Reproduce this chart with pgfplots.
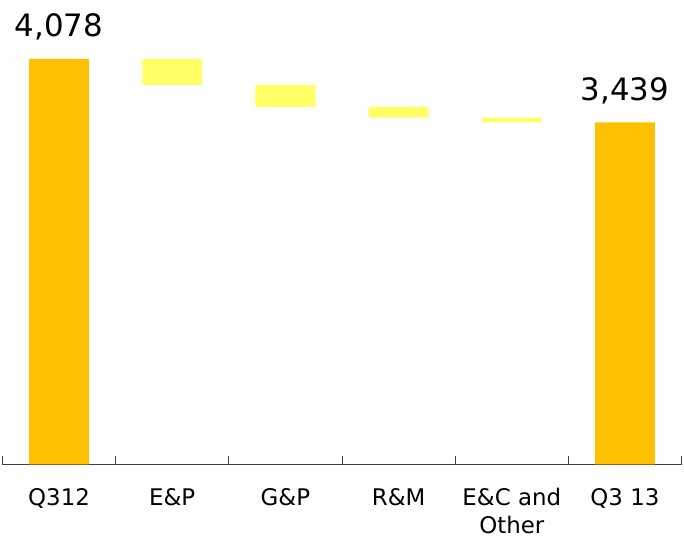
\documentclass[border={2bp 5bp 2bp 0bp}]{standalone}
\usepackage{pgfplots}
\usepackage{pgfplotstable}
\pgfplotsset{compat=1.18}
\usepackage{fontspec}
\setmainfont{DejaVu Sans}

\definecolor{totalbar}{HTML}{FFC000}
\definecolor{stepbar}{HTML}{FFFF66}
\definecolor{axisgray}{HTML}{404040}

% Change steps of the waterfall: invisible base + visible step
\pgfplotstableread{
x base step
1 3817 261
2 3596 221
3 3488 108
4 3439 49
}\steps

% Start and end totals
\pgfplotstableread{
x total
0 4078
5 3439
}\totals

\pgfplotsset{
  wfframe/.style={
    scale only axis,
    width=680bp, height=465bp,
    bar width=60bp,
    xmin=-0.5, xmax=5.5,
    ymin=0, ymax=4670,
    axis x line*=bottom,
    axis y line*=left,
    y axis line style={draw=none},
    ytick=\empty,
    clip=false,
  },
}

\begin{document}
\begin{tikzpicture}
\begin{axis}[
  wfframe,
  ybar stacked,
  x axis line style={axisgray, line width=0.9bp},
  xtick={0,...,5},
  xticklabels={Q312, E\&P, G\&P, R\&M, {E\&C and\\Other}, Q3 13},
  major tick length=0pt,
  minor xtick={-0.5,0.5,...,5.5},
  minor tick length=8bp,
  xtick align=inside,
  minor tick style={axisgray, line width=0.9bp},
  xticklabel style={font=\fontsize{23}{28}\selectfont, align=center,
    anchor=north, inner sep=0pt, yshift=-24bp},
]
\addplot[draw=none, fill=none, forget plot] table[x=x, y=base] {\steps};
\addplot[draw=none, fill=stepbar] table[x=x, y=step] {\steps};
\end{axis}
\begin{axis}[
  wfframe,
  ybar,
  bar shift=0pt,
  x axis line style={draw=none},
  xtick=\empty,
  /pgf/number format/.cd, 1000 sep={,},
]
\addplot[draw=none, fill=totalbar,
  nodes near coords,
  nodes near coords style={font=\fontsize{31}{36}\selectfont, anchor=base,
    yshift=22bp, inner sep=0pt, text=black,
    /pgf/number format/assume math mode=true},
] table[x=x, y=total] {\totals};
\end{axis}
\end{tikzpicture}
\end{document}
